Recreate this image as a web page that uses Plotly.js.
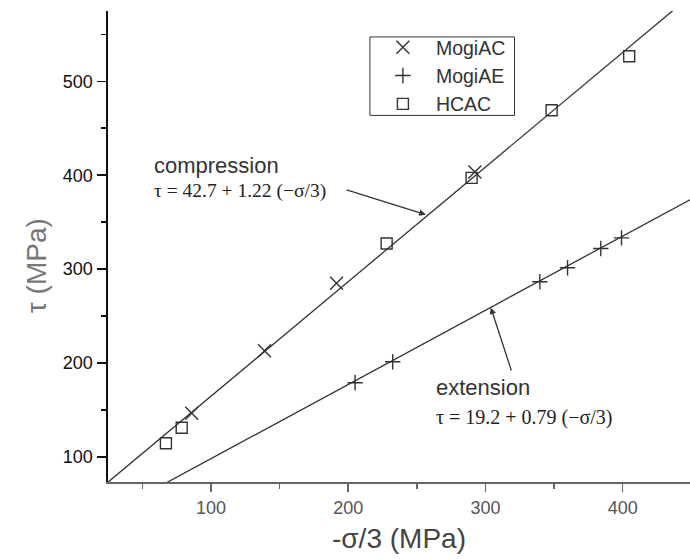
<!DOCTYPE html>
<html>
<head>
<meta charset="utf-8">
<script src="https://cdn.plot.ly/plotly-3.0.1.min.js"></script>
<style>html,body{margin:0;padding:0;background:#fff;}#chart{width:690px;height:559px;}</style>
</head>
<body>
<div id="chart"></div>
<script>
// --- data ---
const mogiAC_x = [86, 139, 191.5, 292.3];
const mogiAC_y = [146.5, 213, 285, 403.5];
const mogiAE_x = [205, 232.4, 339.6, 359.8, 384, 399.1];
const mogiAE_y = [179, 201.4, 286.5, 301.4, 322, 333.3];
const hcac_x = [67.2, 78.7, 228, 289.9, 348.2, 404.7];
const hcac_y = [114.6, 131.2, 327.3, 397.2, 469.1, 526.6];
// fitted lines (coefficients printed on the chart)
const compFit = [42.7, 1.22];
const extFit = [19.2, 0.79];
const fitX = [25, 449];
const xTicks = [100, 200, 300, 400];
const yTicks = [100, 200, 300, 400, 500];

const ink = '#333';
const serif = 'Liberation Serif, Times New Roman, serif';
const traces = [
  {x: fitX, y: fitX.map(v => compFit[0] + compFit[1]*v), mode: 'lines',
   line: {color: ink, width: 1.3}, showlegend: false, hoverinfo: 'skip'},
  {x: fitX, y: fitX.map(v => extFit[0] + extFit[1]*v), mode: 'lines',
   line: {color: ink, width: 1.3}, showlegend: false, hoverinfo: 'skip'},
  {x: mogiAC_x, y: mogiAC_y, name: 'MogiAC', mode: 'markers',
   marker: {symbol: 'x-thin-open', size: 13, color: ink, line: {color: ink, width: 1.4}}},
  {x: mogiAE_x, y: mogiAE_y, name: 'MogiAE', mode: 'markers',
   marker: {symbol: 'cross-thin-open', size: 11, color: ink, line: {color: ink, width: 1.4}}},
  {x: hcac_x, y: hcac_y, name: 'HCAC', mode: 'markers',
   marker: {symbol: 'square-open', size: 11, color: ink, line: {color: ink, width: 1.4}}}
];

const layout = {
  width: 690, height: 559,
  margin: {l: 108, r: 0, t: 11, b: 77},
  paper_bgcolor: '#fff', plot_bgcolor: '#fff',
  font: {family: 'Liberation Sans, Arial, sans-serif', color: ink},
  xaxis: {
    range: [25, 449], tickvals: xTicks, ticktext: xTicks.map(String),
    showgrid: false, zeroline: false,
    showline: true, linecolor: '#666', linewidth: 2,
    ticks: 'outside', ticklen: 8, tickwidth: 1.5, tickcolor: '#666',
    tickfont: {size: 18, color: '#555'},
    minor: {dtick: 50, tick0: 0, ticks: 'outside', ticklen: 5, tickwidth: 1.5, tickcolor: '#666'},
    title: {text: '-σ/3 (MPa)', font: {size: 28, color: '#444'}, standoff: 12}
  },
  yaxis: {
    range: [73.4, 574.8], tickvals: yTicks, ticktext: yTicks.map(String),
    showgrid: false, zeroline: false,
    showline: true, linecolor: '#111', linewidth: 2.5,
    ticks: 'outside', ticklen: 9, tickwidth: 1.5, tickcolor: '#111',
    tickfont: {size: 18, color: '#111'},
    minor: {dtick: 50, tick0: 0, ticks: 'outside', ticklen: 5, tickwidth: 1.5, tickcolor: '#111'}
  },
  legend: {
    x: 0.450, y: 0.964, xanchor: 'left', yanchor: 'top',
    borderwidth: 0, bgcolor: 'rgba(0,0,0,0)',
    font: {size: 19.5, color: '#333'}, itemwidth: 56
  },
  shapes: [
    {type: 'rect', xref: 'paper', yref: 'paper', x0: 0.450, x1: 0.6985, y0: 0.7783, y1: 0.9449,
     line: {color: '#333', width: 1}, fillcolor: '#fff', layer: 'below'}
  ],
  annotations: [
    {xref: 'paper', yref: 'paper', x: 0, y: 0.458, xshift: -72, xanchor: 'center', yanchor: 'middle',
     textangle: -90, showarrow: false, text: 'τ (MPa)', font: {size: 28, color: '#777'}},
    {x: 57.1, y: 410.5, xref: 'x', yref: 'y', xanchor: 'left', yanchor: 'middle', showarrow: false,
     text: 'compression', font: {size: 22, color: '#333'}},
    {x: 57.1, y: 382.9, xref: 'x', yref: 'y', xanchor: 'left', yanchor: 'middle', showarrow: false,
     text: 'τ = 42.7 + 1.22 (−σ/3)', font: {size: 19.5, family: serif, color: '#222'}},
    {x: 256.5, y: 358, xref: 'x', yref: 'y', axref: 'x', ayref: 'y', ax: 197.7, ay: 385,
     text: '', showarrow: true, arrowhead: 2, arrowsize: 1, arrowwidth: 1.3, arrowcolor: '#333'},
    {x: 262.6, y: 174.2, xref: 'x', yref: 'y', xanchor: 'left', yanchor: 'middle', showarrow: false,
     text: 'extension', font: {size: 22, color: '#333'}},
    {x: 262.6, y: 142.2, xref: 'x', yref: 'y', xanchor: 'left', yanchor: 'middle', showarrow: false,
     text: 'τ = 19.2 + 0.79 (−σ/3)', font: {size: 20, family: serif, color: '#222'}},
    {x: 303.9, y: 259, xref: 'x', yref: 'y', axref: 'x', ayref: 'y', ax: 319.2, ay: 190.5,
     text: '', showarrow: true, arrowhead: 2, arrowsize: 1, arrowwidth: 1.3, arrowcolor: '#333'}
  ]
};

Plotly.newPlot('chart', traces, layout, {displayModeBar: false, staticPlot: true});
</script>
</body>
</html>
